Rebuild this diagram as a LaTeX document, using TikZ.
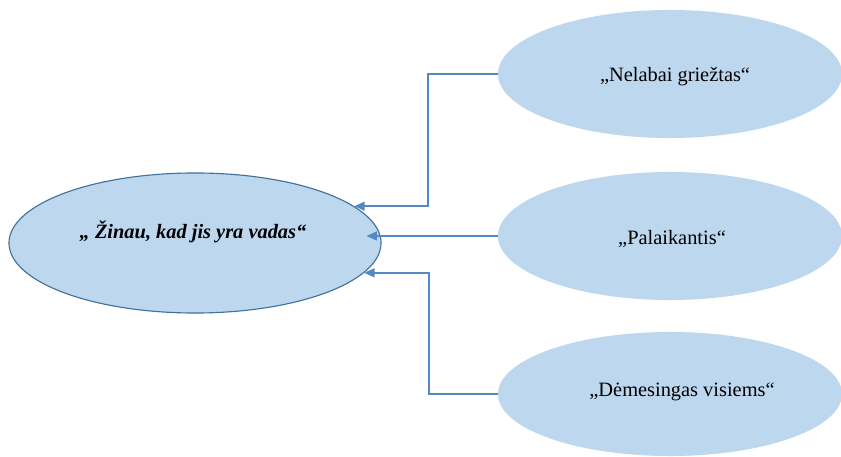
\documentclass[tikz,border=0pt]{standalone}
\usepackage{fontspec}
\setmainfont{Liberation Serif}
\usetikzlibrary{shapes.geometric,arrows.meta}
\definecolor{ellfill}{RGB}{189,215,238}
\definecolor{ellline}{RGB}{65,113,156}
\definecolor{arrline}{RGB}{84,137,196}
\tikzset{
  bubble/.style={ellipse,fill=ellfill,inner sep=0pt},
  label text/.style={font=\fontsize{14.5}{17}\selectfont},
  link/.style={draw=arrline,line width=1.3pt,-{Triangle[length=2.6mm,width=2.2mm]}}
}
\begin{document}
\begin{tikzpicture}[x=0.025cm,y=-0.025cm]
      \useasboundingbox[fill=white] (0,0) rectangle (841,457);
      \node (vadas) at (195,243) [bubble,draw=ellline,line width=0.8pt,minimum width=9.3cm,minimum height=3.5cm]{};
      \node (grieztas) at (670,74) [bubble,minimum width=8.6cm,minimum height=3.2cm]{};
      \node (palaikantis) at (670,236) [bubble,minimum width=8.6cm,minimum height=3.2cm]{};
      \node (demesingas) at (670,394) [bubble,minimum width=8.6cm,minimum height=3.1cm]{};
      \node (vadastxt) at (193,232) [label text,font=\fontsize{14.5}{17}\selectfont\bfseries\itshape]{„ Žinau, kad jis yra vadas“};
      \node (grieztastxt) at (675,77) [label text]{„Nelabai griežtas“};
      \node (palaikantistxt) at (672,239) [label text]{„Palaikantis“};
      \node (demesingastxt) at (682,392) [label text]{„Dėmesingas visiems“};
      \coordinate (midtip) at ([xshift=-0.38cm]vadas.east);
      % connectors
      \draw[link] (grieztas.west) -- ++(-70,0) |- (vadas.13);
      \draw[link] (palaikantis.west) -- (palaikantis.west -| midtip);
      \draw[link] (demesingas.west) -- ++(-69,0) |- (vadas.350);
\end{tikzpicture}
\end{document}
